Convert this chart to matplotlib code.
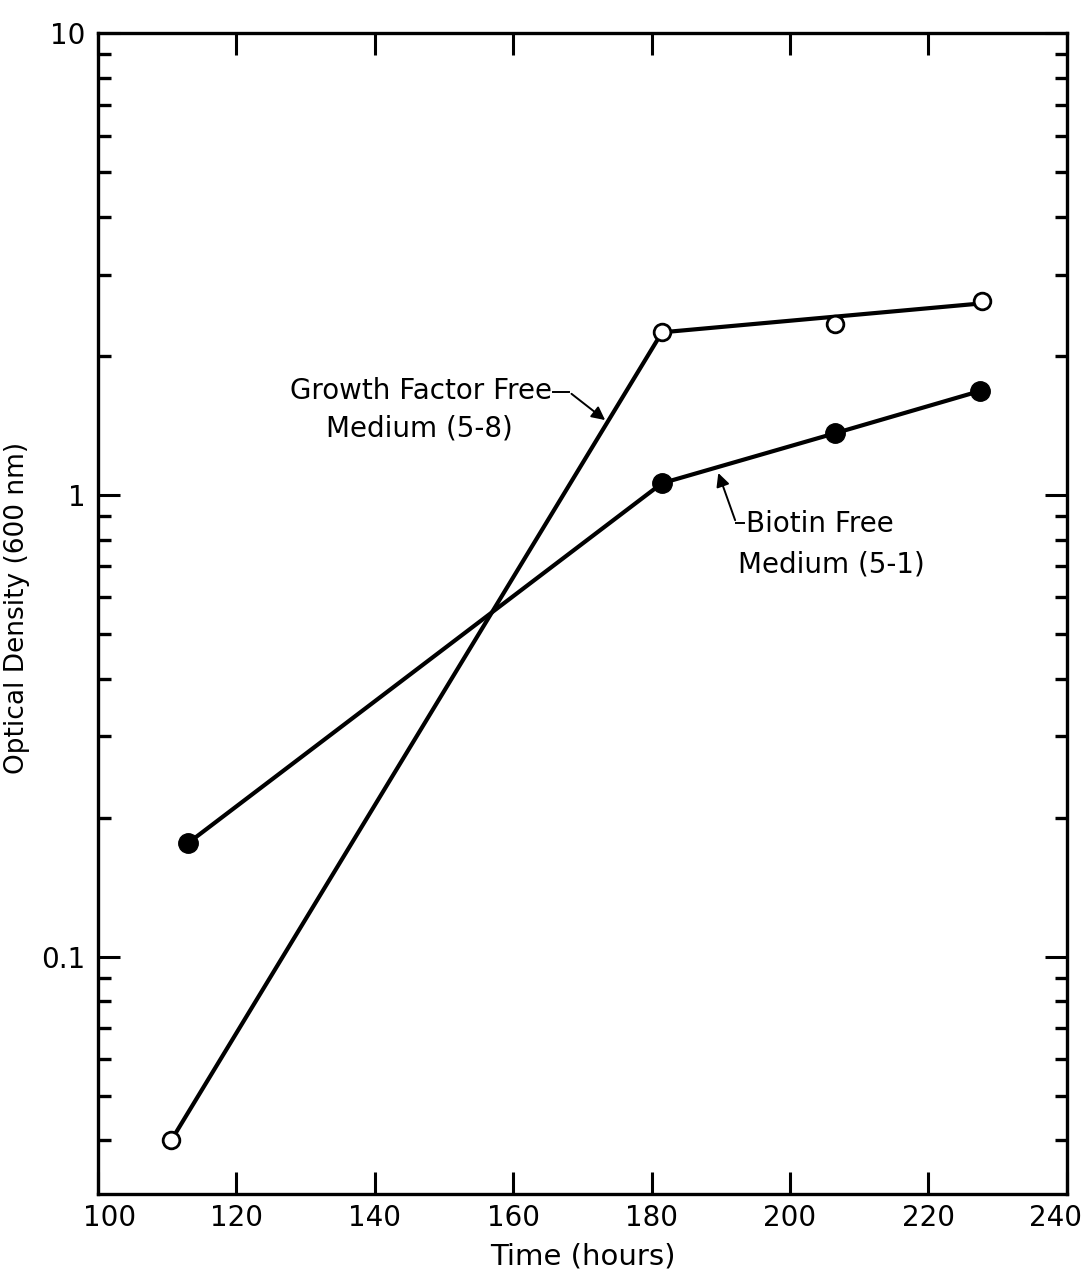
import matplotlib
matplotlib.use('Agg')
import matplotlib.pyplot as plt
from matplotlib.ticker import LogLocator, FixedLocator, NullFormatter
from matplotlib.transforms import ScaledTranslation

# growth factor free medium (5-8), open circles
gf_time = [110.6, 181.5, 206.5, 227.8]
gf_od = [0.040, 2.25, 2.35, 2.63]
# the drawn line skips the 206 h point
gf_line_time = [110.6, 181.5, 227.8]
gf_line_od = [0.040, 2.25, 2.6]

# biotin free medium (5-1), filled circles
bt_time = [113.0, 181.5, 206.5, 227.5]
bt_od = [0.176, 1.06, 1.36, 1.68]

x_ticks = [100, 120, 140, 160, 180, 200, 220, 240]
y_ticks = [0.1, 1, 10]
y_ticklabels = ['0.1', '1', '10']

plt.rcParams['font.family'] = 'DejaVu Sans'

fig = plt.figure(figsize=(10.92, 12.79), dpi=100)
ax = fig.add_axes([0.0897, 0.0665, 0.8873, 0.9075])

ax.plot(gf_line_time, gf_line_od, color='black', lw=3.0, zorder=2)
ax.plot(gf_time, gf_od, 'o', ms=12, mfc='white', mec='black', mew=2.0, zorder=3)
ax.plot(bt_time, bt_od, color='black', lw=3.0, zorder=2)
ax.plot(bt_time, bt_od, 'o', ms=14, mfc='black', mec='black', zorder=3)

ax.set_yscale('log')
ax.set_xlim(100, 240)
ax.set_ylim(0.0306, 10)

ax.xaxis.set_major_locator(FixedLocator(x_ticks))
ax.yaxis.set_major_locator(FixedLocator(y_ticks))
ax.set_yticklabels(y_ticklabels)
ax.yaxis.set_minor_locator(LogLocator(base=10, subs=range(2, 10)))
ax.yaxis.set_minor_formatter(NullFormatter())

ax.tick_params(axis='both', which='major', direction='in', top=True, right=True,
               length=16, width=2.2, labelsize=20)
ax.tick_params(axis='y', which='minor', direction='in', right=True,
               length=9, width=2.4)
ax.tick_params(axis='x', pad=7)
ax.tick_params(axis='y', pad=9)
for s in ax.spines.values():
    s.set_linewidth(2.4)

# keep the end labels inside the frame
fig.canvas.draw()
xlabels = ax.get_xticklabels()
xlabels[0].set_transform(xlabels[0].get_transform()
                         + ScaledTranslation(8 / 72, 0, fig.dpi_scale_trans))
xlabels[-1].set_transform(xlabels[-1].get_transform()
                          + ScaledTranslation(-8 / 72, 0, fig.dpi_scale_trans))

ax.set_xlabel('Time (hours)', fontsize=21, labelpad=8)
ax.set_ylabel('Optical Density (600 nm)', fontsize=19)
ax.yaxis.set_label_coords(-0.070, 0.505)

ax.annotate('', xy=(173.6, 1.44), xytext=(168.1, 1.67),
            arrowprops=dict(arrowstyle='-|>', color='black', lw=1.4,
                            mutation_scale=20))
ax.plot([165.8, 168.1], [1.67, 1.67], color='black', lw=1.4)
ax.text(165.6, 1.68, 'Growth Factor Free', ha='right', va='center', fontsize=20)
ax.text(146.5, 1.39, 'Medium (5-8)', ha='center', va='center', fontsize=20)

ax.annotate('', xy=(189.5, 1.13), xytext=(192.2, 0.87),
            arrowprops=dict(arrowstyle='-|>', color='black', lw=1.4,
                            mutation_scale=20))
ax.plot([192.2, 193.4], [0.87, 0.87], color='black', lw=1.4)
ax.text(193.6, 0.865, 'Biotin Free', ha='left', va='center', fontsize=20)
ax.text(192.5, 0.705, 'Medium (5-1)', ha='left', va='center', fontsize=20)

fig.savefig('out.png', dpi=100)
